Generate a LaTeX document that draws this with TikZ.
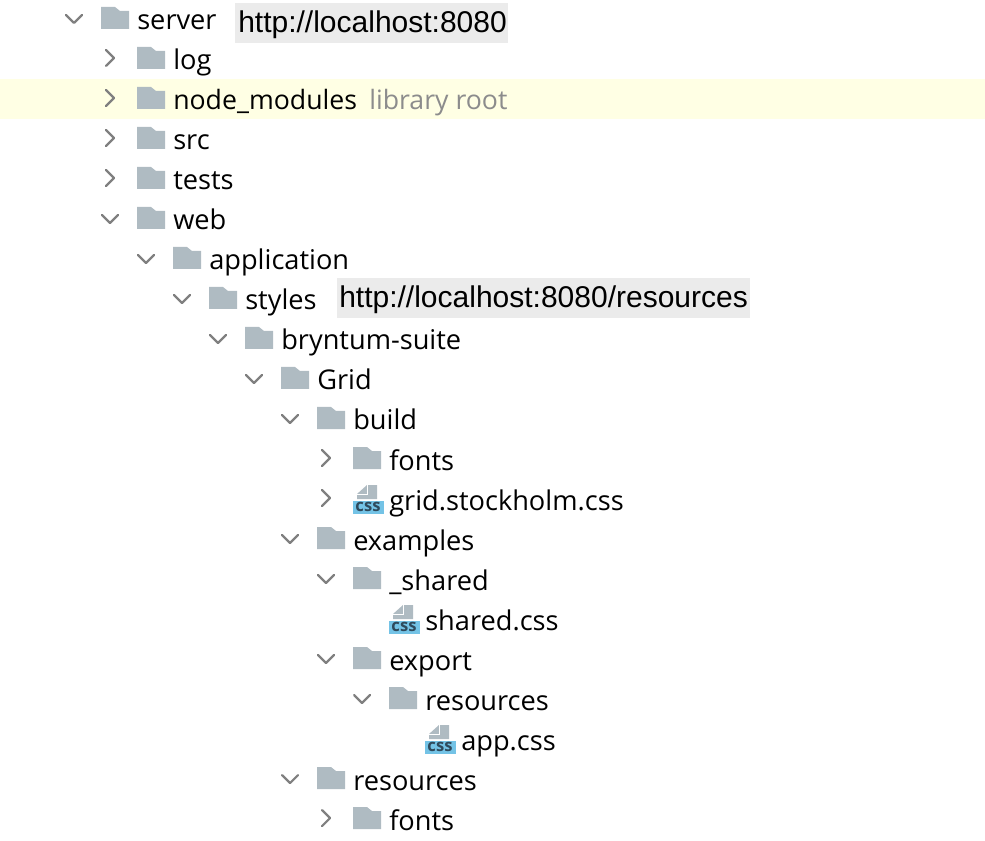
\documentclass[tikz,border=0pt]{standalone}
\usepackage{xcolor}
\usepackage{fontspec}
\setmainfont{Open Sans}
\newfontfamily\urlfont{Liberation Sans}
\definecolor{foldergray}{HTML}{AFBBC2}
\definecolor{chevrongray}{HTML}{808080}
\definecolor{rowyellow}{HTML}{FFFFE4}
\definecolor{urlgray}{HTML}{EBEBEB}
\definecolor{rootgray}{HTML}{8C8C8C}
\definecolor{cssblue}{HTML}{74C3E6}
\definecolor{cssink}{HTML}{2F4A5C}

\begin{document}
\begin{tikzpicture}[
    x=0.75pt,
    y=-0.75pt,
    entry/.style={
        anchor=base west,
        inner sep=0pt,
        yshift=-0.75pt,
        font=\fontsize{20.4}{22}\selectfont
    },
    root/.style={
        entry,
        text=rootgray
    },
    url/.style={
        anchor=base west,
        inner sep=0pt,
        font=\urlfont\fontsize{22.5}{24}\selectfont
    },
    badge/.style={
        anchor=center,
        inner sep=0pt,
        text=cssink,
        font=\bfseries\fontsize{12.5}{14}\selectfont
    },
    chevron/.style={
        draw=chevrongray,
        line width=1.6pt,
        line cap=round,
        line join=round
    },
    folder/.pic={
        \fill[foldergray] (0,-13) -- (14,-13) -- (19,-9) -- (28,-9) -- (28,9) -- (0,9) -- cycle;
    },
    opened/.pic={
        \draw[chevron] (-8,-5) -- (0,3) -- (8,-5);
    },
    closed/.pic={
        \draw[chevron] (-4,-10) -- (4,-2) -- (-4,6);
    },
    cssfile/.pic={
        \fill[foldergray] (14,-15) -- (24,-15) -- (24,-1) -- (4,-1) -- (4,-6) -- cycle;
        \draw[white, line width=0.7pt] (14,-15) -- (14,-6) -- (4,-6);
        \fill[cssblue] (0,1) rectangle (31,14);
    }
]

\useasboundingbox (0,0) rectangle (985,841);

% highlights
\fill[rowyellow] (0,79) rectangle (985,119);
\node[fill=urlgray, inner sep=0pt, minimum width=273*0.75pt, minimum height=40*0.75pt, anchor=north west] (urlbgone) at (235,3) {};
\node[fill=urlgray, inner sep=0pt, minimum width=413*0.75pt, minimum height=40*0.75pt, anchor=north west] (urlbgtwo) at (337,278) {};

% top level
\pic at (74,20) {opened};
\pic at (101,20) {folder};
\node[entry] (server) at (137,29) {server};
\node[url] (urlone) at (238,33) {http://localhost:8080};

\pic at (110,60) {closed};
\pic at (137,60) {folder};
\node[entry] (log) at (173,69) {log};

\pic at (110,100) {closed};
\pic at (137,100) {folder};
\node[entry, font=\fontsize{20}{22}\selectfont] (modules) at (173,109) {node\_modules};
\node[root, font=\fontsize{20}{22}\selectfont] (libroot) at (369,109) {library root};

\pic at (110,140) {closed};
\pic at (137,140) {folder};
\node[entry] (src) at (173,149) {src};

\pic at (110,180) {closed};
\pic at (137,180) {folder};
\node[entry] (tests) at (173,189) {tests};

% web
\pic at (110,220) {opened};
\pic at (137,220) {folder};
\node[entry] (web) at (173,229) {web};

\pic at (146,260) {opened};
\pic at (173,260) {folder};
\node[entry] (application) at (209,269) {application};

\pic at (182,300) {opened};
\pic at (209,300) {folder};
\node[entry] (styles) at (245,309) {styles};
\node[url] (urltwo) at (339,308) {http://localhost:8080/resources};

\pic at (218,340) {opened};
\pic at (245,340) {folder};
\node[entry] (suite) at (281,349) {bryntum-suite};

\pic at (254,380) {opened};
\pic at (281,380) {folder};
\node[entry] (grid) at (317,389) {Grid};

% build
\pic at (290,420) {opened};
\pic at (317,420) {folder};
\node[entry] (build) at (353,429) {build};

\pic at (326,460) {closed};
\pic at (353,460) {folder};
\node[entry] (fontsone) at (389,469) {fonts};

\pic at (326,500) {closed};
\pic at (353,500) {cssfile};
\node[badge] (cssgrid) at (368,507) {css};
\node[entry] (gridcss) at (389,509) {grid.stockholm.css};

% examples
\pic at (290,540) {opened};
\pic at (317,540) {folder};
\node[entry] (examples) at (353,549) {examples};

\pic at (326,580) {opened};
\pic at (353,580) {folder};
\node[entry] (shared) at (389,589) {\_shared};

\pic at (389,620) {cssfile};
\node[badge] (cssshared) at (404,627) {css};
\node[entry] (sharedcss) at (425,629) {shared.css};

\pic at (326,660) {opened};
\pic at (353,660) {folder};
\node[entry] (export) at (389,669) {export};

\pic at (362,700) {opened};
\pic at (389,700) {folder};
\node[entry] (exportres) at (425,709) {resources};

\pic at (425,740) {cssfile};
\node[badge] (cssapp) at (440,747) {css};
\node[entry] (appcss) at (461,749) {app.css};

% resources
\pic at (290,780) {opened};
\pic at (317,780) {folder};
\node[entry] (resources) at (353,789) {resources};

\pic at (326,820) {closed};
\pic at (353,820) {folder};
\node[entry] (fontstwo) at (389,829) {fonts};

\end{tikzpicture}
\end{document}
